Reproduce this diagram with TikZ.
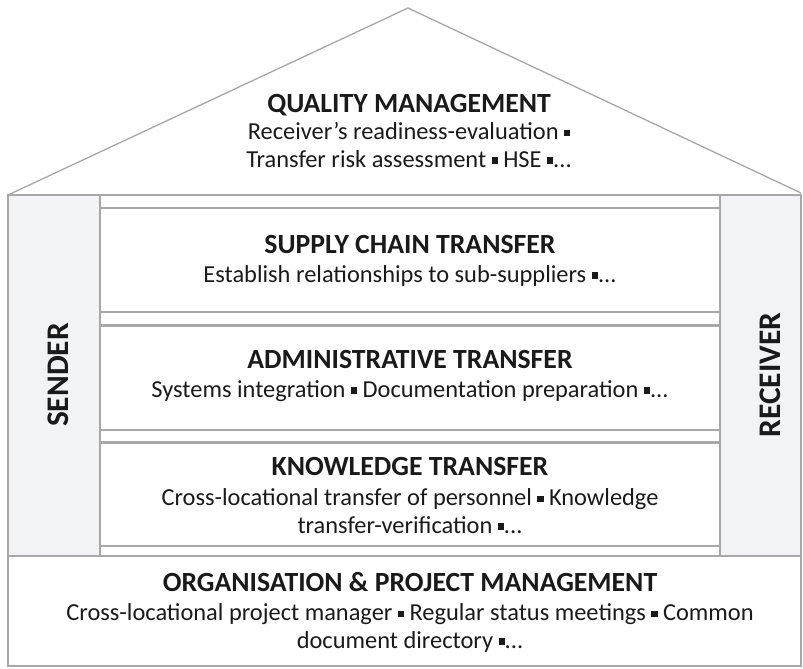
\documentclass[tikz,border=0pt]{standalone}
\usepackage{fontspec}
\setmainfont{Carlito}
\usepackage{xcolor}
\usetikzlibrary{positioning}

\definecolor{framegray}{RGB}{168,168,168}
\definecolor{sidefill}{RGB}{242,243,245}
\definecolor{inkgray}{RGB}{26,26,26}
\newcommand{\sqbul}{\raisebox{0.14em}{\rule{0.25em}{0.25em}}}

\begin{document}
\begin{tikzpicture}[x=0.75pt,y=-0.75pt,
	every node/.style={text=inkgray,inner sep=0pt},
	boxline/.style={draw=framegray,line width=1.6pt},
	titletext/.style={anchor=base,font=\fontsize{20.8}{24}\selectfont\bfseries},
	subtext/.style={anchor=base,align=center,font=\fontsize{18.3}{20.8}\selectfont},
	sidetext/.style={rotate=90,font=\fontsize{23.6}{26}\selectfont\bfseries}]
	\useasboundingbox (0,0) rectangle (803,668);
	%
	% roof
	\draw[framegray,line width=1pt] (8,195) -- (408,8) -- (801,193);
	% side columns
	\fill[sidefill] (8,195) rectangle (100,556);
	\fill[sidefill] (720,195) rectangle (801,556);
	% frame
	\draw[boxline] (8,195) rectangle (801,666);
	\draw[boxline] (100,195) -- (100,556);
	\draw[boxline] (720,195) -- (720,556);
	\foreach \y in {208,312,325.5,430,442.5,546}
		\draw[boxline] (100,\y) -- (720,\y);
	\draw[boxline] (8,556) -- (801,556);
	%
	% texts (base of a two-line text is its last line)
	\node (QMt) [titletext] at (409,112) {QUALITY MANAGEMENT};
	\node (QMs) [subtext] at (409,167) {Receiver’s readiness-evaluation \sqbul\\Transfer risk assessment \sqbul{} HSE \sqbul...};
	\node (SCt) [titletext] at (410,253) {SUPPLY CHAIN TRANSFER};
	\node (SCs) [subtext] at (410,282) {Establish relationships to sub-suppliers \sqbul...};
	\node (ADt) [titletext] at (410,368) {ADMINISTRATIVE TRANSFER};
	\node (ADs) [subtext] at (410,397) {Systems integration \sqbul{} Documentation preparation \sqbul...};
	\node (KTt) [titletext] at (410,475) {KNOWLEDGE TRANSFER};
	\node (KTs) [subtext] at (410,533) {Cross-locational transfer of personnel \sqbul{} Knowledge\\transfer-verification \sqbul...};
	\node (OPt) [titletext] at (410,591) {ORGANISATION \& PROJECT MANAGEMENT};
	\node (OPs) [subtext] at (410,648) {Cross-locational project manager \sqbul{} Regular status meetings \sqbul{} Common\\document directory \sqbul...};
	%
	\node (sender) [sidetext] at (58,375) {SENDER};
	\node (receiver) [sidetext] at (770,375) {RECEIVER};
\end{tikzpicture}
\end{document}
